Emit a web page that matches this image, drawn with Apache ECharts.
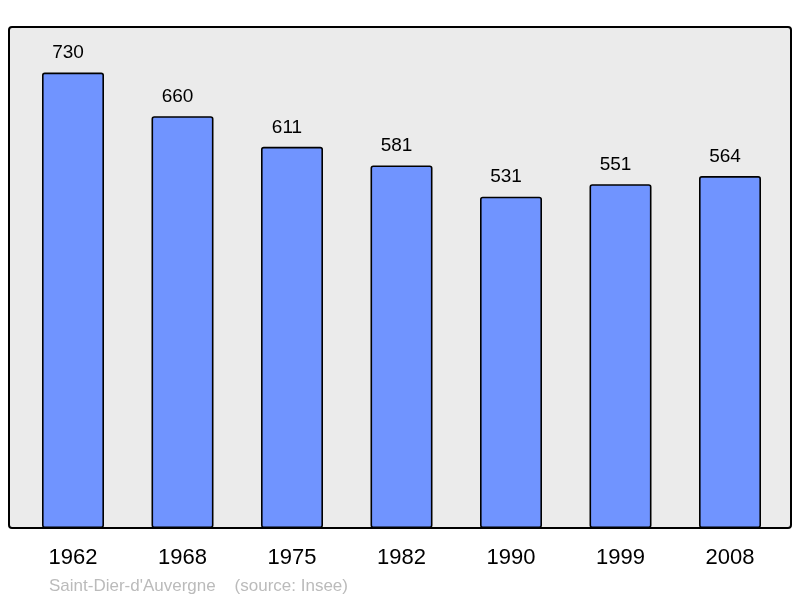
<!DOCTYPE html>
<html><head><meta charset="utf-8">
<script src="https://cdn.jsdelivr.net/npm/echarts@6/dist/echarts.min.js"></script>
<style>html,body{margin:0;padding:0;background:#fff}#c{width:800px;height:598px}</style>
</head><body><div id="c"></div>
<script>
const years = ['1962','1968','1975','1982','1990','1999','2008'];
const population = [730, 660, 611, 581, 531, 551, 564];
const sourceText = "Saint-Dier-d'Auvergne    (source: Insee)";

const chart = echarts.init(document.getElementById('c'), null, {renderer:'canvas'});
chart.setOption({
  animation: false,
  backgroundColor: '#ffffff',
  graphic: [
    {type:'rect', z:-1, shape:{x:9,y:27,width:782,height:501,r:3}, style:{fill:'#ebebeb', stroke:'#000', lineWidth:2}},
    {type:'text', left:49, top:578, style:{text:sourceText, fill:'#bbbbbb', font:'17px "Liberation Sans", Arial, sans-serif'}}
  ],
  grid: {left:18.25, width:766.5, top:27, height:501},
  xAxis: {
    type:'category', data: years,
    axisLine:{show:false}, axisTick:{show:false},
    axisLabel:{color:'#000', fontSize:22, fontFamily:'"Liberation Sans", Arial, sans-serif', margin:19}
  },
  yAxis: {type:'value', min:0, max:803, show:false, splitLine:{show:false}},
  series: [{
    type:'bar', data: population, barWidth:62,
    itemStyle:{color:'#7094ff', borderColor:'#000', borderWidth:1.6, borderRadius:2},
    label:{show:true, position:'top', distance:10, offset:[-5,0], color:'#000', fontSize:19, fontFamily:'"Liberation Sans", Arial, sans-serif'}
  }]
});
</script></body></html>
